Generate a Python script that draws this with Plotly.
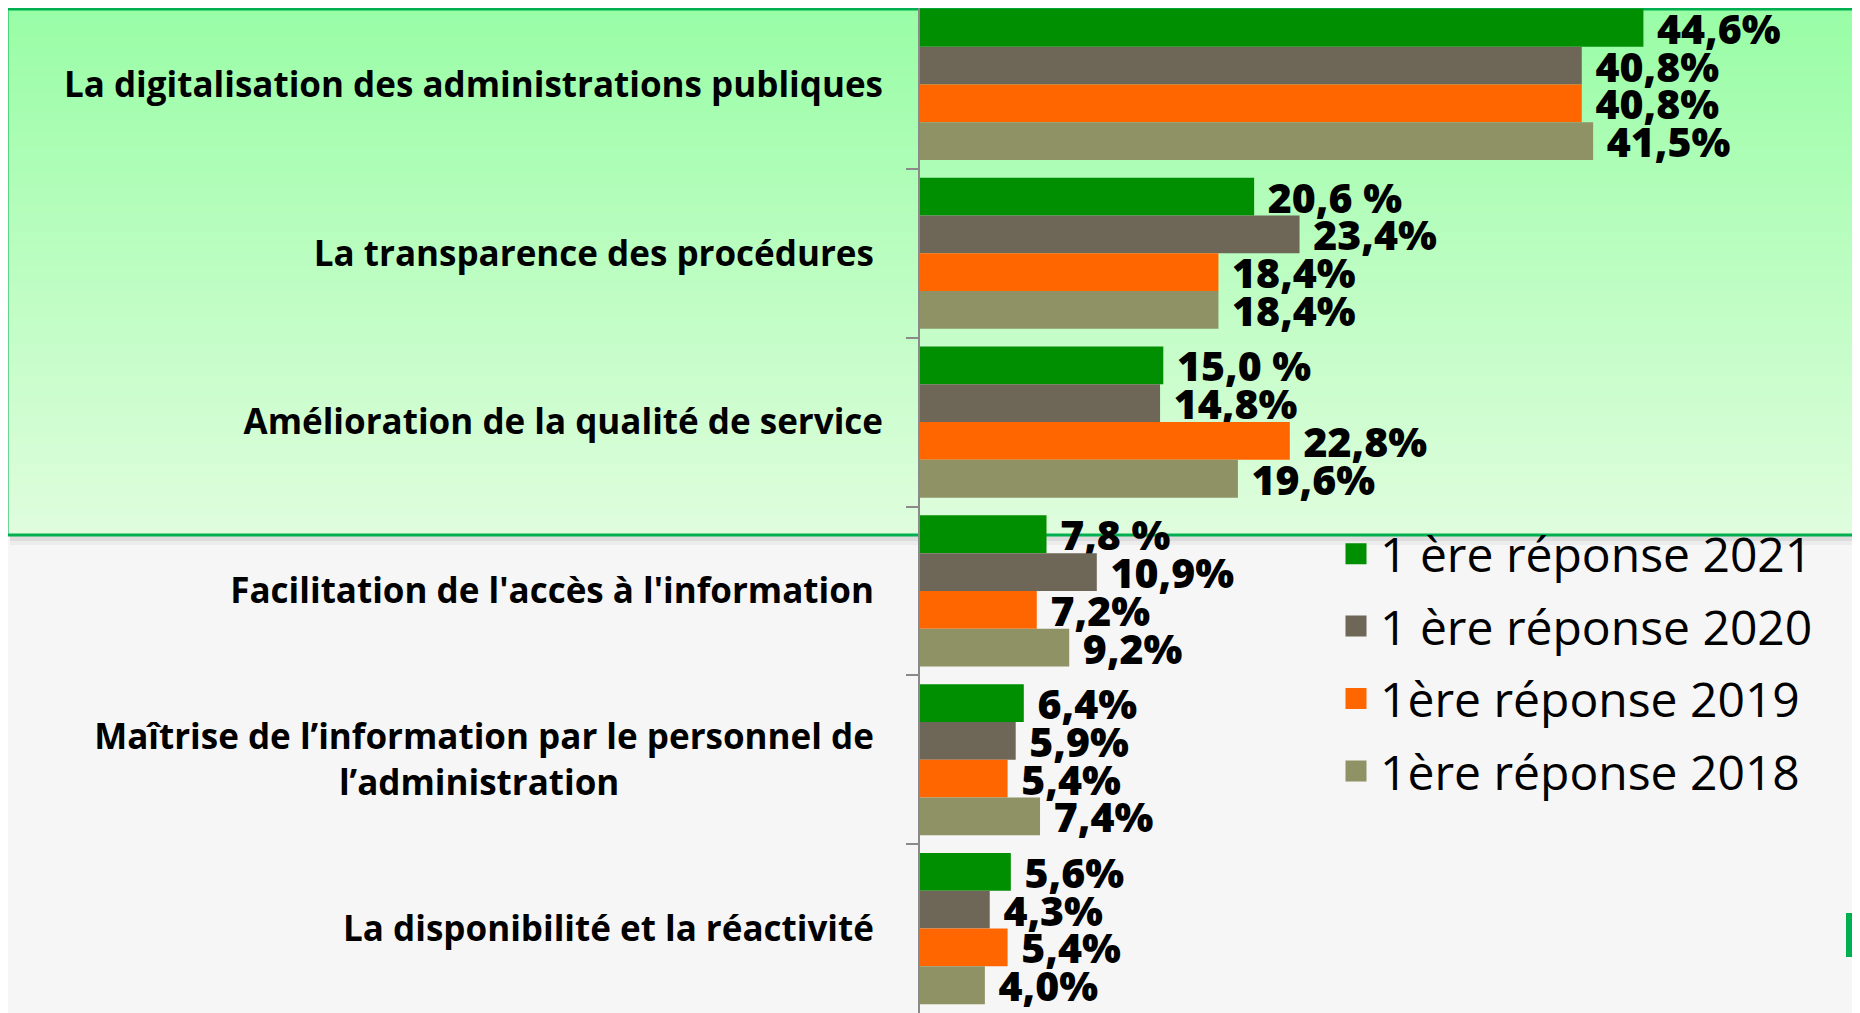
import plotly.graph_objects as go

# ---------------- data ----------------
NB = "\u00a0"
categories = [
    "La digitalisation des administrations publiques",
    "La transparence des procédures" + NB,
    "Amélioration de la qualité de service",
    "Facilitation de l'accès à l'information" + NB,
    "Maîtrise de l’information par le personnel de" + NB + "<br>l’administration" + NB * 29,
    "La disponibilité et la réactivité" + NB,
]

series_names = ["1 ère réponse 2021", "1 ère réponse 2020", "1ère réponse 2019", "1ère réponse 2018"]

values_2021 = [44.6, 20.6, 15.0, 7.8, 6.4, 5.6]
values_2020 = [40.8, 23.4, 14.8, 10.9, 5.9, 4.3]
values_2019 = [40.8, 18.4, 22.8, 7.2, 5.4, 5.4]
values_2018 = [41.5, 18.4, 19.6, 9.2, 7.4, 4.0]

labels_2021 = ["44,6%", "20,6 %", "15,0 %", "7,8 %", "6,4%", "5,6%"]
labels_2020 = ["40,8%", "23,4%", "14,8%", "10,9%", "5,9%", "4,3%"]
labels_2019 = ["40,8%", "18,4%", "22,8%", "7,2%", "5,4%", "5,4%"]
labels_2018 = ["41,5%", "18,4%", "19,6%", "9,2%", "7,4%", "4,0%"]

colors = ["#008f00", "#6e6757", "#ff6600", "#8f9265"]

# ---------------- geometry ----------------
OFF = 8                      # page body margin
PAGE_W, PAGE_H = 1860, 1013
W, H = PAGE_W - OFF, PAGE_H - OFF
L = 920 - OFF                # plot area left edge in figure pixels
PX_PER_PCT = 16.22
CAT_H = PAGE_H / 6
FONT = "Open Sans"

def px_x(p):
    return (p - OFF - L) / (W - L)

def px_y(p):
    return 1 - (p - OFF) / H

y_top_val = OFF / CAT_H - 0.5
y_bot_val = (OFF + H) / CAT_H - 0.5

fig = go.Figure()

all_vals = [values_2021, values_2020, values_2019, values_2018]
all_labels = [labels_2021, labels_2020, labels_2019, labels_2018]

for name, vals, labs, col in zip(series_names, all_vals, all_labels, colors):
    fig.add_trace(go.Bar(
        y=categories, x=vals, orientation="h", name=name,
        marker=dict(color=col, line=dict(width=0)),
        text=labs, texttemplate=NB + "%{text}", textposition="outside",
        textfont=dict(family=FONT, size=41, color="black", weight=800),
        constraintext="none", cliponaxis=False, showlegend=False,
    ))

# legend entries
for i, (name, col) in enumerate(zip(series_names, colors)):
    fig.add_trace(go.Scatter(
        x=[None], y=[None], mode="markers", name=name, legendgroup=f"g{i}",
        marker=dict(symbol="square", size=16, color=col, line=dict(color=col, width=5)),
    ))

shapes = []
# shadow under the green box
shapes.append(dict(type="rect", xref="paper", yref="paper", layer="below",
                   x0=px_x(10), x1=px_x(1880), y0=px_y(536), y1=px_y(541),
                   fillcolor="rgba(0,0,0,0.10)", line=dict(width=0)))
shapes.append(dict(type="rect", xref="paper", yref="paper", layer="below",
                   x0=px_x(10), x1=px_x(1880), y0=px_y(541), y1=px_y(545),
                   fillcolor="rgba(0,0,0,0.04)", line=dict(width=0)))
# gradient green box
top, bot = 9, 535
c0 = (153, 253, 166)
c1 = (223, 253, 221)
N = 80
for k in range(N):
    t = k / (N - 1)
    r = round(c0[0] + (c1[0] - c0[0]) * t)
    g = round(c0[1] + (c1[1] - c0[1]) * t)
    b = round(c0[2] + (c1[2] - c0[2]) * t)
    ya = top + (bot - top) * k / N
    yb = top + (bot - top) * (k + 1) / N + 0.6
    shapes.append(dict(type="rect", xref="paper", yref="paper", layer="below",
                       x0=px_x(7), x1=px_x(1880), y0=px_y(ya), y1=px_y(yb),
                       fillcolor=f"rgb({r},{g},{b})", line=dict(width=0)))
shapes.append(dict(type="rect", xref="paper", yref="paper", layer="below",
                   x0=px_x(7), x1=px_x(1885), y0=px_y(top), y1=px_y(bot),
                   fillcolor="rgba(0,0,0,0)", line=dict(color="#00b050", width=3)))
# small green strip at right edge
shapes.append(dict(type="rect", xref="paper", yref="paper", layer="above",
                   x0=px_x(1846), x1=px_x(1862), y0=px_y(913), y1=px_y(957),
                   fillcolor="#00b050", line=dict(width=0)))

fig.update_layout(
    width=W, height=H,
    margin=dict(l=L, r=0, t=0, b=0, pad=0),
    paper_bgcolor="#f6f6f6", plot_bgcolor="rgba(0,0,0,0)",
    barmode="group", bargap=0.105, bargroupgap=0,
    shapes=shapes,
    showlegend=True,
    legend=dict(
        x=px_x(1332), y=px_y(516), xanchor="left", yanchor="top",
        xref="paper", yref="paper",
        font=dict(family=FONT, size=48, color="black"),
        bgcolor="rgba(0,0,0,0)", borderwidth=0,
        tracegroupgap=7, itemwidth=38,
    ),
    xaxis=dict(range=[0, (W - L) / PX_PER_PCT], visible=False, fixedrange=True),
    yaxis=dict(
        type="category", range=[y_bot_val, y_top_val],
        showline=True, linecolor="#8a8a8a", linewidth=2,
        ticks="outside", ticklen=12, tickwidth=2, tickcolor="#8a8a8a",
        tickson="boundaries", ticklabelstandoff=28,
        tickfont=dict(family=FONT, size=35, color="black", weight="bold"),
        showgrid=False, zeroline=False,
    ),
    font=dict(family=FONT),
)

fig.write_html("out.html")
